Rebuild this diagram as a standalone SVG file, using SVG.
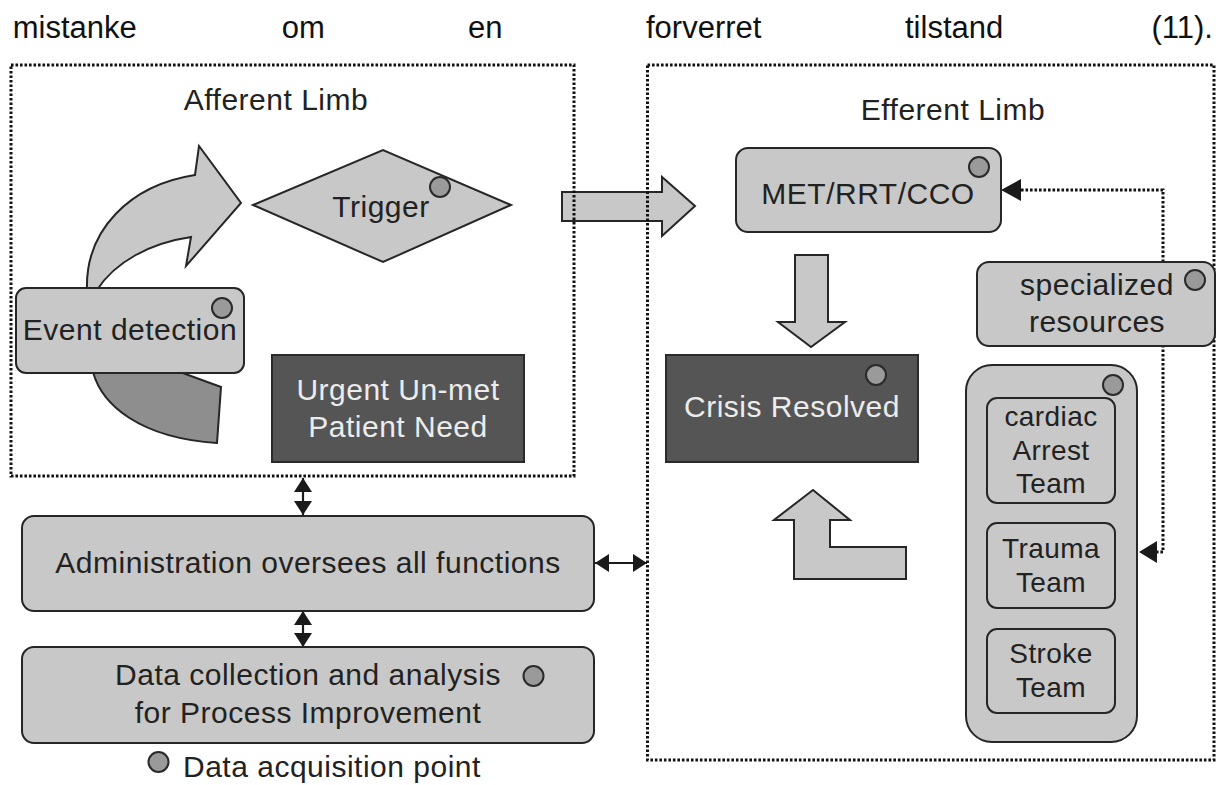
<svg xmlns="http://www.w3.org/2000/svg" width="1225" height="785" viewBox="0 0 1225 785">
<defs>
<style>
text{font-family:"Liberation Sans",Arial,sans-serif;fill:#222;}
.top{font-size:31px;fill:#111;}
.t{font-size:30px;letter-spacing:0.5px;text-anchor:middle;}
.tl{font-size:30px;letter-spacing:0.5px;}
.tm{font-size:28px;letter-spacing:0.4px;text-anchor:middle;}
.w{fill:#ececec;}
.box{fill:#c8c8c8;stroke:#262626;stroke-width:2;}
.dark{fill:#555555;stroke:#2a2a2a;stroke-width:2;}
.dot{fill:#9a9a9a;stroke:#2a2a2a;stroke-width:2;}
.limb{fill:none;stroke:#111;stroke-width:3;stroke-dasharray:2.6 1.9;}
.dotted{fill:none;stroke:#111;stroke-width:3;stroke-dasharray:2.6 1.9;}
.blk{fill:#c8c8c8;stroke:#262626;stroke-width:2;stroke-linejoin:miter;}
.dbl{stroke:#1a1a1a;stroke-width:2.2;fill:none;marker-start:url(#ah);marker-end:url(#ah);}
.head{fill:#1a1a1a;}
</style>
<marker id="ah" viewBox="0 0 14 18" refX="14" refY="9" markerWidth="14" markerHeight="18" markerUnits="userSpaceOnUse" orient="auto-start-reverse">
<path d="M0,0 L14,9 L0,18 Z" fill="#1a1a1a"/>
</marker>
</defs>
<rect width="1225" height="785" fill="#ffffff"/>

<g id="caption">
<text class="top" x="12.7" y="38">mistanke</text>
<text class="top" x="281.7" y="38">om</text>
<text class="top" x="468" y="38">en</text>
<text class="top" x="646" y="38">forverret</text>
<text class="top" x="905" y="38">tilstand</text>
<text class="top" x="1213" y="38" text-anchor="end">(11).</text>
</g>

<g id="connectors">
<!-- curved light arrow: event detection to trigger -->
<path class="blk" d="M87,300 L87,290 C85,230 130,185 195,175 L199,146 L241,203 L186,266 L191,237 C150,243 115,262 97,290 L97,300 Z"/>
<!-- dark lower arc tail -->
<path d="M93,365 L93,372 C102,405 140,438 217,443 L221,387 L180,372 L180,365 Z" fill="#8e8e8e" stroke="#262626" stroke-width="2"/>
<!-- trigger to efferent limb -->
<path class="blk" d="M562,192 L662,192 L662,177 L695,206 L662,236 L662,221 L562,221 Z"/>
<!-- MET to crisis resolved -->
<path class="blk" d="M795,255 L828,255 L828,322 L845,322 L811,347 L778,322 L795,322 Z"/>
<!-- teams back up to crisis resolved -->
<path class="blk" d="M813,490 L850,520 L830,520 L830,547 L906,547 L906,579 L794,579 L794,520 L774,520 Z"/>
<!-- dotted feedback from specialized resources -->
<path class="dotted" d="M1021,190 H1163 V552 H1157"/>
<path class="head" d="M1001,190 L1021,179 L1021,201 Z"/>
<path class="head" d="M1139,552 L1157,541 L1157,563 Z"/>
<!-- administration links -->
<line class="dbl" x1="303" y1="478" x2="303" y2="515"/>
<line class="dbl" x1="303" y1="611" x2="303" y2="647"/>
<line class="dbl" x1="595" y1="563" x2="647" y2="563"/>
</g>

<g id="afferent-limb">
<rect class="limb" x="11" y="65" width="563" height="411"/>
<text class="t" x="276" y="110">Afferent Limb</text>
</g>
<g id="efferent-limb">
<rect class="limb" x="647.5" y="65" width="566.5" height="695"/>
<text class="t" x="953" y="120">Efferent Limb</text>
</g>

<g id="trigger">
<polygon class="box" points="253,205 383,150 511,205 383,262"/>
<text class="t" x="381" y="217">Trigger</text>
<circle class="dot" cx="440" cy="187" r="10"/>
</g>

<g id="event-detection">
<rect class="box" x="16" y="288" width="228" height="85" rx="10"/>
<text class="t" x="130" y="340">Event detection</text>
<circle class="dot" cx="222" cy="308" r="10"/>
</g>

<g id="urgent-need">
<rect class="dark" x="272" y="355" width="252" height="107"/>
<text class="t w" x="398" y="400">Urgent Un-met</text>
<text class="t w" x="398" y="437">Patient Need</text>
</g>

<g id="met">
<rect class="box" x="736" y="148" width="265" height="84" rx="12"/>
<text class="t" x="868" y="204">MET/RRT/CCO</text>
<circle class="dot" cx="979" cy="167" r="10"/>
</g>

<g id="crisis-resolved">
<rect class="dark" x="666" y="355" width="252" height="107"/>
<text class="t w" x="792" y="417">Crisis Resolved</text>
<circle class="dot" cx="876" cy="375" r="10"/>
</g>

<g id="specialized-resources">
<rect class="box" x="977" y="262" width="238" height="84" rx="12"/>
<text class="t" x="1097" y="295">specialized</text>
<text class="t" x="1097" y="332">resources</text>
<circle class="dot" cx="1195" cy="280" r="10"/>
</g>

<g id="teams">
<rect class="box" x="966" y="365" width="171" height="377" rx="26"/>
<circle class="dot" cx="1113" cy="385" r="10"/>
</g>
<g id="cardiac-arrest-team">
<rect class="box" x="987" y="398" width="128" height="105" rx="10"/>
<text class="tm" x="1051" y="426">cardiac</text>
<text class="tm" x="1051" y="460">Arrest</text>
<text class="tm" x="1051" y="493">Team</text>
</g>
<g id="trauma-team">
<rect class="box" x="987" y="523" width="128" height="85" rx="10"/>
<text class="tm" x="1051" y="558">Trauma</text>
<text class="tm" x="1051" y="592">Team</text>
</g>
<g id="stroke-team">
<rect class="box" x="987" y="629" width="128" height="84" rx="10"/>
<text class="tm" x="1051" y="663">Stroke</text>
<text class="tm" x="1051" y="697">Team</text>
</g>

<g id="administration">
<rect class="box" x="22" y="516" width="572" height="95" rx="12"/>
<text class="t" x="308" y="573">Administration oversees all functions</text>
</g>

<g id="data-collection">
<rect class="box" x="22" y="647" width="572" height="96" rx="12"/>
<text class="t" x="308" y="685">Data collection and analysis</text>
<text class="t" x="308" y="723">for Process Improvement</text>
<circle class="dot" cx="533.5" cy="676" r="10"/>
</g>

<g id="legend">
<circle class="dot" cx="158.5" cy="762" r="10"/>
<text class="tl" x="183" y="777">Data acquisition point</text>
</g>
</svg>
